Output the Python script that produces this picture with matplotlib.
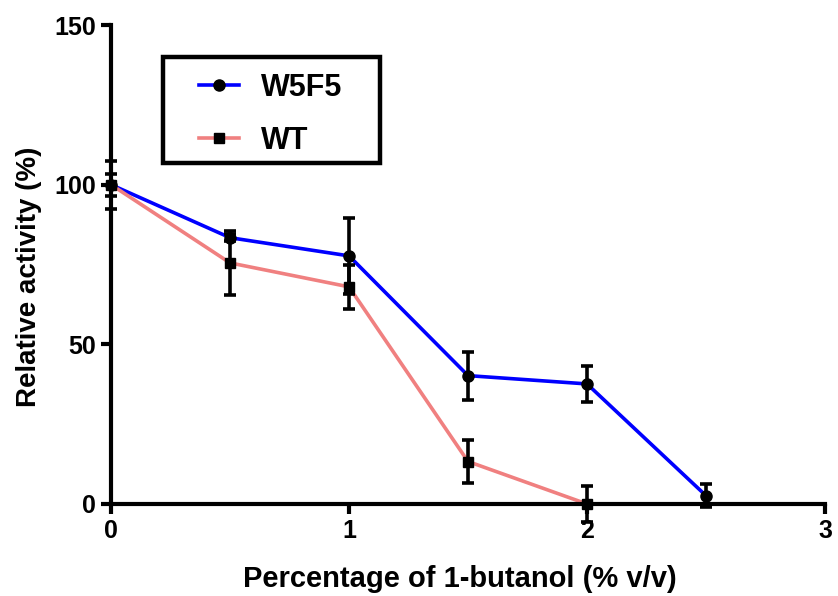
import matplotlib
matplotlib.use("Agg")
import matplotlib.pyplot as plt
from matplotlib.lines import Line2D
from matplotlib.patches import Rectangle

plt.rcParams['font.family'] = ['Liberation Sans', 'DejaVu Sans']
plt.rcParams['font.weight'] = 'bold'

# 1-butanol concentration (% v/v)
conc_w5f5 = [0, 0.5, 1, 1.5, 2, 2.5]
act_w5f5 = [100, 83.4, 77.7, 40.2, 37.6, 2.6]
err_w5f5 = [3.5, 1.0, 12.0, 7.5, 5.6, 3.7]

conc_wt = [0, 0.5, 1, 1.5, 2]
act_wt = [100, 75.5, 68.0, 13.3, 0.0]
err_wt = [7.5, 10.0, 7.0, 6.6, 5.5]

x_ticks = [0, 1, 2, 3]
y_ticks = [0, 50, 100, 150]

blue = '#0000ff'
salmon = '#f08080'
lw = 2.6

fig = plt.figure(figsize=(8.38, 5.96), dpi=100)
ax = fig.add_axes([0.1325, 0.1544, 0.852, 0.8036])

ax.plot(conc_w5f5, act_w5f5, color=blue, lw=lw, zorder=2, clip_on=False)
ax.plot(conc_wt, act_wt, color=salmon, lw=lw, zorder=2, clip_on=False)

for xs, ys, es in [(conc_w5f5, act_w5f5, err_w5f5), (conc_wt, act_wt, err_wt)]:
    eb = ax.errorbar(xs, ys, yerr=es, fmt='none', ecolor='black', elinewidth=2.6,
                     capsize=4, capthick=2.6, zorder=3)
    for art in eb.lines[1] + eb.lines[2]:
        art.set_clip_on(False)

ax.plot(conc_w5f5, act_w5f5, 'o', color='black', ms=8, zorder=4, clip_on=False)
ax.plot(conc_wt, act_wt, 's', color='black', ms=7, zorder=4, clip_on=False)

ax.set_xlim(0, 3)
ax.set_ylim(0, 150)
ax.set_xticks(x_ticks)
ax.set_yticks(y_ticks)
ax.set_xticklabels([str(t) for t in x_ticks])
ax.set_yticklabels([str(t) for t in y_ticks])

for side in ['top', 'right']:
    ax.spines[side].set_visible(False)
for side in ['left', 'bottom']:
    ax.spines[side].set_linewidth(3)
    ax.spines[side].set_capstyle('projecting')
ax.tick_params(axis='both', direction='out', length=7, width=3, labelsize=18, pad=4)
for lbl in ax.get_xticklabels() + ax.get_yticklabels():
    lbl.set_fontweight('bold')

ax.set_xlabel('Percentage of 1-butanol (% v/v)', fontsize=21, fontweight='bold', labelpad=16)
ax.xaxis.label.set_x(0.489)
ax.set_ylabel('Relative activity (%)', fontsize=20, fontweight='bold')
ax.yaxis.set_label_coords(-0.097, 0.474)

# legend box drawn separately so the frame is solid black with even margins
box = Rectangle((0.0728, 0.712), 0.304, 0.221, transform=ax.transAxes,
                facecolor='white', edgecolor='black', lw=3.2, zorder=5, clip_on=False)
ax.add_patch(box)

handles = [
    Line2D([], [], color=blue, lw=lw, marker='o', mfc='black', mec='black', ms=8),
    Line2D([], [], color=salmon, lw=lw, marker='s', mfc='black', mec='black', ms=7),
]
leg = ax.legend(handles, ['W5F5', 'WT'], loc='center', bbox_to_anchor=(0.2235, 0.814),
                frameon=False, prop={'weight': 'bold', 'size': 22},
                handlelength=1.3, handletextpad=0.7, borderpad=0, labelspacing=0.75)
leg.set_zorder(6)

fig.savefig('out.png', dpi=100)
